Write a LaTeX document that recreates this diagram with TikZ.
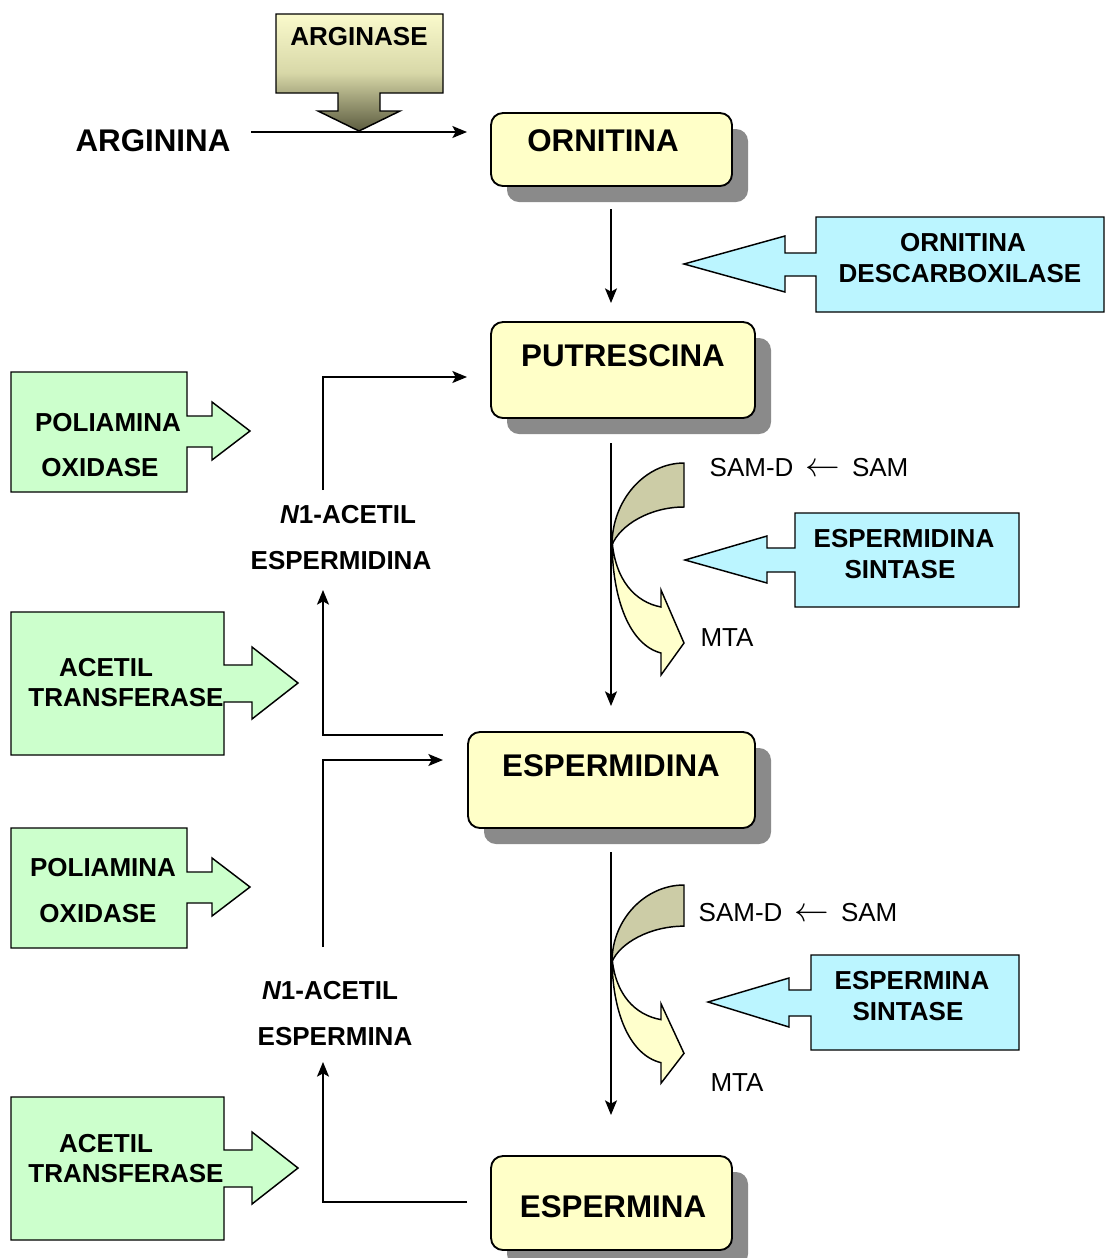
\documentclass[tikz,border=0pt]{standalone}
\usepackage{fontspec}
\setmainfont{Liberation Sans}
\usetikzlibrary{arrows.meta,shadows}
\definecolor{boxyellow}{HTML}{FFFFC8}
\definecolor{enzcyan}{HTML}{BBF5FF}
\definecolor{enzgreen}{HTML}{CCFFCC}
\definecolor{shadowgray}{HTML}{8A8A8A}
\definecolor{olivefill}{HTML}{CCCCA6}
\definecolor{paleyellow}{HTML}{FFFFCC}
\definecolor{argtop}{HTML}{FAFACC}
\definecolor{argmid}{HTML}{D8D8A8}
\definecolor{argbot}{HTML}{5C5C40}
\newcommand{\myleftarrow}{\raisebox{0.5pt}{\scalebox{1.25}{$\leftarrow$}}}
\begin{document}
\begin{tikzpicture}[x=0.75pt,y=-0.75pt,
  metab/.style={draw, line width=1.4pt, rounded corners=9pt, fill=boxyellow, inner sep=0pt,
    drop shadow={shadow xshift=12pt, shadow yshift=-12pt, fill=shadowgray, opacity=1}},
  metlab/.style={font=\fontsize{23.5}{28}\selectfont\bfseries, inner sep=0pt},
  enzlab/.style={font=\fontsize{19.5}{23}\selectfont\bfseries, inner sep=0pt},
  reglab/.style={font=\fontsize{19.5}{23}\selectfont, inner sep=0pt},
  enzc/.style={draw, line width=1.1pt, fill=enzcyan, line join=miter},
  enzg/.style={draw, line width=1.1pt, fill=enzgreen, line join=miter},
  curv/.style={draw, line width=1.1pt},
  ln/.style={line width=1.1pt},
  conn/.style={line width=1.1pt, -{Stealth[length=11pt,width=9pt,inset=2.5pt]}}
]
\useasboundingbox (0,0) rectangle (1106,1258);

% ---------- ARGINASE ----------
\shadedraw[line width=1.1pt, top color=argtop, bottom color=argbot, middle color=argmid]
  (276,14) -- (443,14) -- (443,93) -- (380,93) -- (380,111) -- (400,111) -- (359,131)
  -- (318,111) -- (338,111) -- (338,93) -- (276,93) -- cycle;
\node[enzlab] (arginaseT) at (359,37) {ARGINASE};

\node[metlab] (arginina) at (153,141) {ARGININA};
\coordinate (argS) at (251,132);
\coordinate (argE) at (467,132);
\draw[conn] (argS) -- (argE);

% ---------- metabolite boxes ----------
\node[metab, minimum width={241*0.75pt}, minimum height={73*0.75pt}] (ornitina) at (611.5,149.5) {};
\node[metlab] (ornitinaT) at (603,141) {ORNITINA};

\node[metab, minimum width={264*0.75pt}, minimum height={96*0.75pt}] (putrescina) at (623,370) {};
\node[metlab] (putrescinaT) at (623,356) {PUTRESCINA};

\node[metab, minimum width={287*0.75pt}, minimum height={96*0.75pt}] (espermidina) at (611.5,780) {};
\node[metlab] (espermidinaT) at (611,766) {ESPERMIDINA};

\node[metab, minimum width={241*0.75pt}, minimum height={94*0.75pt}] (espermina) at (611.5,1203) {};
\node[metlab] (esperminaT) at (613,1207) {ESPERMINA};

% ---------- main vertical connectors ----------
\coordinate (v1s) at (611,209);  \coordinate (v1e) at (611,303);
\coordinate (v2s) at (611,443);  \coordinate (v2e) at (611,706);
\coordinate (v3s) at (611,852);  \coordinate (v3e) at (611,1115);
\draw[conn] (v1s) -- (v1e);
\draw[conn] (v2s) -- (v2e);
\draw[conn] (v3s) -- (v3e);

% ---------- ORNITINA DESCARBOXILASE ----------
\draw[enzc] (816,217) -- (1104,217) -- (1104,312) -- (816,312) -- (816,276) -- (785,276)
  -- (785,292) -- (684,264) -- (785,236) -- (785,253) -- (816,253) -- cycle;
\node[enzlab] (odc1) at (963,243) {ORNITINA};
\node[enzlab] (odc2) at (960,274) {DESCARBOXILASE};

% ---------- ESPERMIDINA SINTASE ----------
\draw[enzc] (795,513) -- (1019,513) -- (1019,607) -- (795,607) -- (795,572) -- (767,572)
  -- (767,583) -- (685,560) -- (767,536) -- (767,548) -- (795,548) -- cycle;
\node[enzlab] (es1) at (904,539) {ESPERMIDINA};
\node[enzlab] (es2) at (900,570) {SINTASE};

% ---------- ESPERMINA SINTASE ----------
\draw[enzc] (811,955) -- (1019,955) -- (1019,1050) -- (811,1050) -- (811,1016) -- (789,1016)
  -- (789,1027) -- (708,1002) -- (789,978) -- (789,990) -- (811,990) -- cycle;
\node[enzlab] (ems1) at (912,981) {ESPERMINA};
\node[enzlab] (ems2) at (908,1012) {SINTASE};

% ---------- curved arrows ----------
\foreach \dy/\sc in {0/1, 422/0.935} {
\begin{scope}[shift={(0,463+\dy)}, yscale=\sc, shift={(0,-463)}]
  \draw[curv, fill=paleyellow] (612,540) .. controls (612,600) and (630,645) .. (661,653)
    -- (661,675) -- (684,643) -- (661,590) -- (661,607)
    .. controls (635,602) and (615,580) .. (612,540) -- cycle;
  \draw[curv, fill=olivefill] (684,463) .. controls (645,463) and (612,500) .. (612,545)
    .. controls (620,525) and (650,507) .. (684,507) -- cycle;
\end{scope}
}

\node[reglab] (sam1) at (809,468) {SAM-D\hspace{9pt}\myleftarrow\hspace{9pt}SAM};
\node[reglab] (mta1) at (727,638) {MTA};
\node[reglab] (sam2) at (798,913) {SAM-D\hspace{9pt}\myleftarrow\hspace{9pt}SAM};
\node[reglab] (mta2) at (737,1083) {MTA};

% ---------- green callouts ----------
\foreach \dy in {0,456} {
\begin{scope}[yshift={-\dy*0.75pt}]
  \draw[enzg] (11,372) -- (187,372) -- (187,416) -- (212,416) -- (212,402) -- (250,431)
    -- (212,460) -- (212,447) -- (187,447) -- (187,492) -- (11,492) -- cycle;
\end{scope}
}
\node[enzlab] (po1a) at (108,423) {POLIAMINA};
\node[enzlab] (po1b) at (100,468) {OXIDASE};
\node[enzlab] (po2a) at (103,868) {POLIAMINA};
\node[enzlab] (po2b) at (98,914) {OXIDASE};

\foreach \dy in {0,485} {
\begin{scope}[yshift={-\dy*0.75pt}]
  \draw[enzg] (11,612) -- (224,612) -- (224,665) -- (252,665) -- (252,647) -- (298,683)
    -- (252,719) -- (252,702) -- (224,702) -- (224,755) -- (11,755) -- cycle;
\end{scope}
}
\node[enzlab] (at1a) at (106,668) {ACETIL};
\node[enzlab] (at1b) at (126,698) {TRANSFERASE};
\node[enzlab] (at2a) at (106,1144) {ACETIL};
\node[enzlab] (at2b) at (126,1174) {TRANSFERASE};

% ---------- acetyl intermediates ----------
\node[enzlab] (n1spd1) at (348,515) {{\itshape N}1-ACETIL};
\node[enzlab] (n1spd2) at (341,561) {ESPERMIDINA};
\node[enzlab] (n1spm1) at (330,991) {{\itshape N}1-ACETIL};
\node[enzlab] (n1spm2) at (335,1037) {ESPERMINA};

\coordinate (l1s) at (443,735); \coordinate (l1e) at (323,590);
\coordinate (l2s) at (323,490); \coordinate (l2e) at (467,377);
\coordinate (l3s) at (323,947); \coordinate (l3e) at (443,760);
\coordinate (l4s) at (467,1202); \coordinate (l4e) at (323,1062);
\draw[conn] (l1s) -| (l1e);
\draw[conn] (l2s) |- (l2e);
\draw[conn] (l3s) |- (l3e);
\draw[conn] (l4s) -| (l4e);
\end{tikzpicture}
\end{document}
